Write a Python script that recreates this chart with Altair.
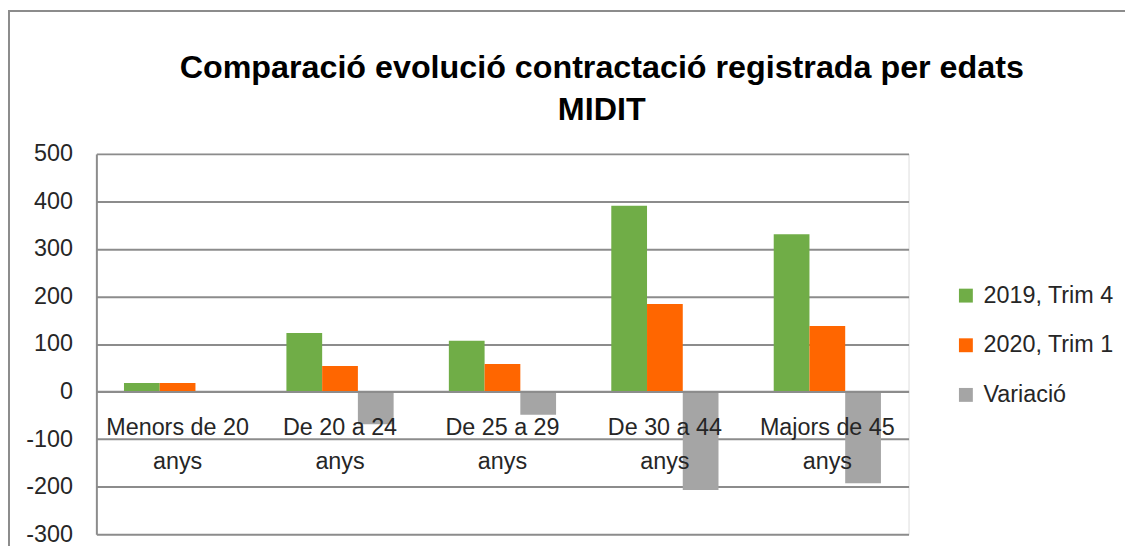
import altair as alt
import pandas as pd

categories = ["Menors de 20 anys", "De 20 a 24 anys", "De 25 a 29 anys", "De 30 a 44 anys", "Majors de 45 anys"]
series = ["2019, Trim 4", "2020, Trim 1", "Variació"]
v2019 = [18, 123, 107, 391, 331]
v2020 = [18, 54, 58, 184, 138]
variacio = [0, -69, -49, -207, -193]
colors = ["#70AD47", "#FF6600", "#A5A5A5"]
y_ticks = [-300, -200, -100, 0, 100, 200, 300, 400, 500]

rows = []
for i, c in enumerate(categories):
    for s, vals in zip(series, [v2019, v2020, variacio]):
        rows.append({"edat": c, "serie": s, "valor": vals[i]})
df = pd.DataFrame(rows)

FONT = "Liberation Sans"
W, H = 818, 383

bars = alt.Chart(df).mark_bar(size=36).encode(
    x=alt.X("edat:N", sort=categories, title=None,
            scale=alt.Scale(paddingInner=0.34, paddingOuter=0.17),
            axis=alt.Axis(orient="bottom", offset=-143.6, labelAngle=0, ticks=False,
                          domainColor="#8c8c8c", domainWidth=2, zindex=1,
                          labelExpr="split(datum.label, ' anys')[0] == datum.label ? datum.label : [split(datum.label, ' anys')[0], 'anys']",
                          labelFont=FONT, labelFontSize=23.5, labelColor="#262626",
                          labelLineHeight=34, labelPadding=24, labelOverlap=False,
                          labelBound=False, labelFlush=False)),
    xOffset=alt.XOffset("serie:N", sort=series, scale=alt.Scale(paddingInner=0, paddingOuter=0)),
    y=alt.Y("valor:Q", title=None,
            scale=alt.Scale(domain=[-300, 500], nice=False),
            axis=alt.Axis(values=y_ticks, ticks=False, labelPadding=24,
                          labelExpr="replace(datum.label, '\u2212', '-')",
                          domainColor="#8c8c8c", domainWidth=2,
                          gridColor="#8c8c8c", gridWidth=2,
                          labelFont=FONT, labelFontSize=23.5, labelColor="#262626")),
    color=alt.Color("serie:N", sort=series,
                    scale=alt.Scale(domain=series, range=colors),
                    legend=alt.Legend(title=None, orient="none", legendX=864, legendY=131,
                                      symbolType="square", symbolSize=196, symbolStrokeWidth=0,
                                      labelFont=FONT, labelFontSize=23.5, labelColor="#262626",
                                      rowPadding=25, labelOffset=6)),
)

frame = alt.Chart(pd.DataFrame({"k": [0]})).mark_rect(
    fill="transparent", stroke="#8c8c8c", strokeWidth=2, clip=False
).encode(
    x=alt.value(-88), x2=alt.value(1100), y=alt.value(-144), y2=alt.value(600)
)

chart = alt.layer(bars, frame).properties(
    width=W, height=H,
    autosize=alt.AutoSizeParams(type="none"),
    padding={"left": 89, "top": 145, "right": 218, "bottom": 10},
    title=alt.TitleParams(
        ["Comparació evolució contractació registrada per edats", "MIDIT"],
        anchor="middle", frame="group", font=FONT, fontSize=32.5, fontWeight="bold",
        color="#000000", lineHeight=42, offset=0, dy=117, dx=100),
).configure_view(stroke=None).configure(background="white")

chart.save("out.html", embed_options={"renderer": "svg", "actions": False})
